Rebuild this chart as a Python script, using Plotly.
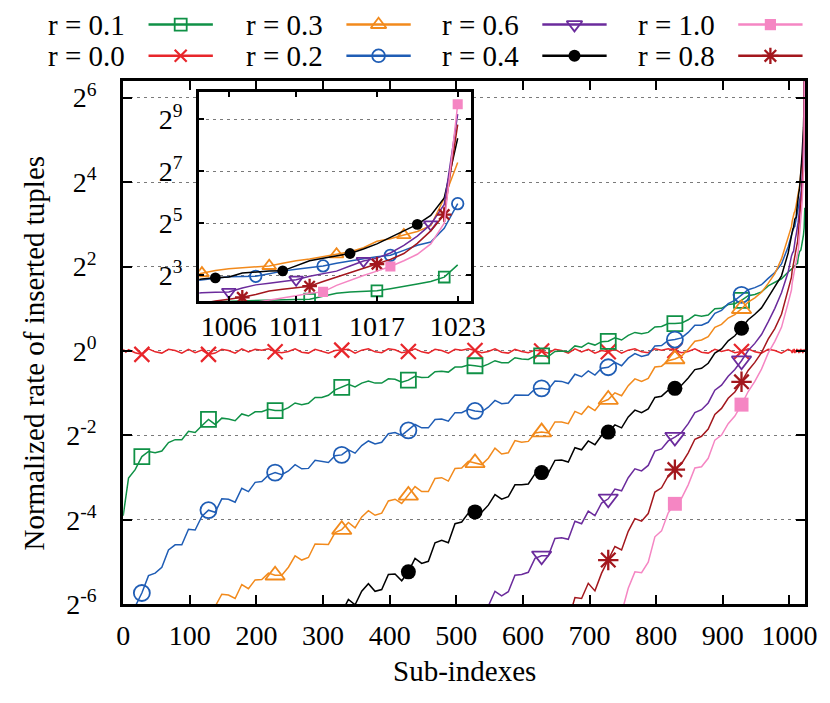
import math
import plotly.graph_objects as go

W, H = 830, 703

# ---------------- data (values are log2 of the normalized rate) ----------------
head_idx = [0, 4]
body_idx = list(range(8, 1000, 10))
tail_idx = list(range(1003, 1024))
sub_index = head_idx + body_idx + tail_idx

main_marker_idx = list(range(28, 1000, 100))

r00_log2 = [0.04, -0.03,
    0.03, -0.04, -0.08, 0.05, -0.02, -0.05, 0.04, 0.01, -0.05, 0.04,
    -0.04, 0.02, -0.08, -0.05, 0.04, 0.01, -0.05, 0.05, -0.02, 0.04,
    0.02, 0.05, -0.02, -0.04, -0.01, 0.05, -0.03, -0.05, 0.04, -0.01,
    -0.05, 0.01, 0.02, 0.04, -0.05, 0.02, 0.05, -0.02, -0.04, 0.05,
    0.03, -0.04, -0.01, 0.05, -0.02, -0.05, 0.04, 0.01, -0.05, 0.04,
    0.02, 0.05, 0.01, -0.04, -0.01, 0.05, -0.03, -0.05, 0.04, -0.01,
    -0.04, 0.02, 0.0, -0.05, 0.04, 0.01, -0.05, 0.05, -0.02, 0.04,
    -0.05, 0.01, -0.02, 0.04, -0.05, 0.02, 0.05, -0.02, -0.04, 0.05,
    0.02, 0.05, 0.01, -0.04, -0.01, 0.05, -0.03, -0.05, 0.04, -0.01,
    0.03, -0.04, -0.01, 0.05, -0.02, -0.05, 0.04, 0.01, -0.05, 0.04,
    0.0, -0.05, 0.03, -0.03, 0.05, -0.05, 0.02, -0.03, 0.05, -0.02, 0.03,
    -0.05, 0.03, -0.03, 0.05, -0.02, 0.03, -0.05, 0.02, 0.03, 0.0]

r01_log2 = [-3.9, -3.4,
    -3.01, -2.81, -2.5, -2.38, -2.41, -2.37, -2.17, -2.10, -2.10, -1.90,
    -1.93, -1.77, -1.62, -1.74, -1.59, -1.61, -1.65, -1.49, -1.54, -1.44,
    -1.44, -1.38, -1.41, -1.41, -1.34, -1.23, -1.27, -1.24, -1.10, -1.10,
    -1.05, -0.92, -0.86, -0.79, -0.85, -0.76, -0.71, -0.76, -0.76, -0.66,
    -0.67, -0.74, -0.69, -0.60, -0.63, -0.62, -0.49, -0.48, -0.50, -0.38,
    -0.38, -0.33, -0.35, -0.37, -0.31, -0.23, -0.28, -0.28, -0.16, -0.19,
    -0.20, -0.12, -0.115, -0.13, -0.01, 0.0, -0.02, 0.12, 0.09, 0.19,
    0.14, 0.22, 0.23, 0.31, 0.26, 0.37, 0.44, 0.41, 0.44, 0.57,
    0.58, 0.65, 0.65, 0.66, 0.74, 0.85, 0.82, 0.85, 1.0, 1.01,
    1.10, 1.12, 1.2, 1.31, 1.34, 1.40, 1.54, 1.63, 1.71, 1.87,
    1.92, 1.95, 1.97, 1.99, 2.0, 2.02, 2.04, 2.05, 2.06, 2.07, 2.2,
    2.3, 2.35, 2.37, 2.39, 2.47, 2.55, 2.65, 2.75, 2.92, 3.39]

r02_log2 = [
    -6.12, -6.05, -5.73, -5.32, -5.26, -5.12, -4.71, -4.59, -4.59, -4.22,
    -4.24, -3.92, -3.77, -3.82, -3.50, -3.51, -3.58, -3.25, -3.33, -3.11,
    -3.09, -2.94, -2.88, -2.93, -2.84, -2.69, -2.79, -2.78, -2.59, -2.61,
    -2.64, -2.48, -2.46, -2.34, -2.42, -2.24, -2.13, -2.20, -2.16, -1.96,
    -1.93, -2.00, -1.88, -1.74, -1.82, -1.82, -1.62, -1.61, -1.66, -1.46,
    -1.46, -1.38, -1.42, -1.44, -1.33, -1.17, -1.25, -1.23, -1.04, -1.05,
    -1.05, -0.90, -0.885, -0.91, -0.71, -0.72, -0.77, -0.55, -0.61, -0.47,
    -0.57, -0.41, -0.385, -0.27, -0.35, -0.17, -0.06, -0.13, -0.09, 0.12,
    0.13, 0.25, 0.27, 0.31, 0.44, 0.61, 0.61, 0.68, 0.89, 0.96,
    1.12, 1.20, 1.33, 1.45, 1.50, 1.57, 1.72, 1.86, 2.06, 2.47,
    2.75, 2.80, 2.87, 2.93, 2.94, 2.95, 3.05, 3.15, 3.22, 3.28, 3.35,
    3.45, 3.55, 3.63, 3.70, 3.76, 3.95, 4.15, 4.27, 4.8, 5.75]

r03_log2 = [
    -6.4, -6.05, -5.76, -5.78, -5.86, -5.53, -5.63, -5.42,
    -5.41, -5.26, -5.31, -5.31, -5.12, -4.85, -4.95, -4.89, -4.57, -4.57,
    -4.58, -4.30, -4.23, -4.06, -4.19, -3.93, -3.78, -3.89, -3.84, -3.55,
    -3.51, -3.61, -3.42, -3.21, -3.33, -3.33, -3.02, -3.00, -3.08, -2.78,
    -2.77, -2.61, -2.65, -2.69, -2.54, -2.30, -2.44, -2.41, -2.12, -2.16,
    -2.14, -1.94, -1.92, -1.94, -1.68, -1.68, -1.72, -1.43, -1.50, -1.31,
    -1.41, -1.21, -1.15, -0.99, -1.06, -0.82, -0.66, -0.72, -0.65, -0.38,
    -0.36, -0.23, -0.19, -0.12, 0.04, 0.23, 0.26, 0.34, 0.56, 0.63,
    0.78, 0.86, 1.0, 1.16, 1.26, 1.39, 1.60, 1.83, 2.18, 2.67,
    2.95, 3.07, 3.17, 3.24, 3.27, 3.3, 3.35, 3.45, 3.55, 3.62, 3.7,
    3.8, 3.9, 4.05, 4.3, 4.4, 4.54, 4.68, 4.9, 5.97, 7.34]

r04_log2 = [
    -6.36, -6.2, -5.88, -6.01, -5.69, -5.51, -5.69, -5.65, -5.29,
    -5.28, -5.44, -5.23, -4.91, -5.03, -4.98, -4.54, -4.48, -4.54, -4.09,
    -4.05, -3.84, -3.81, -3.82, -3.65, -3.40, -3.51, -3.45, -3.17, -3.17,
    -3.15, -2.91, -2.88, -2.89, -2.59, -2.58, -2.63, -2.29, -2.34, -2.13,
    -2.22, -2.00, -1.92, -1.75, -1.82, -1.56, -1.40, -1.46, -1.37, -1.10,
    -1.07, -0.93, -0.885, -0.81, -0.64, -0.44, -0.41, -0.29, -0.05, 0.05,
    0.24, 0.36, 0.54, 0.74, 0.87, 1.02, 1.27, 1.51, 1.78, 2.32,
    2.75, 2.85, 2.89, 2.92, 3.08, 3.12, 3.15, 3.16, 3.35, 3.55, 3.65,
    3.75, 3.83, 4.0, 4.2, 4.45, 4.7, 4.95, 5.3, 5.97, 8.27]

r06_log2 = [
    -6.4, -6.33, -6.04, -5.69, -5.80, -5.70, -5.31, -5.29,
    -5.24, -4.91, -4.85, -4.85, -4.44, -4.42, -4.46, -4.03, -4.09, -3.79,
    -3.90, -3.60, -3.5, -3.27, -3.31, -3.00, -2.79, -2.84, -2.71, -2.37,
    -2.32, -2.13, -2.04, -1.93, -1.72, -1.46, -1.39, -1.23, -0.93, -0.81,
    -0.60, -0.44, -0.23, 0.01, 0.18, 0.39, 0.69, 1.01, 1.38, 1.87,
    2.25, 2.32, 2.34, 2.35, 2.5, 2.62, 2.68, 2.75, 2.82, 2.95, 3.05,
    3.15, 3.35, 3.54, 3.65, 3.85, 4.14, 4.5, 4.95, 5.72, 9.2]

r08_log2 = [
    -6.38, -6.38, -5.84, -5.86, -5.50,
    -5.68, -5.26, -4.95, -4.63, -4.71, -4.27, -3.97, -4.03, -3.85, -3.34,
    -3.24, -2.96, -2.81, -2.67, -2.41, -2.09, -2.02, -1.85, -1.50, -1.36,
    -1.12, -0.97, -0.73, -0.46, -0.27, -0.04, 0.28, 0.53, 0.87, 1.43,
    1.75, 1.9, 2.0, 2.07, 2.14, 2.25, 2.38, 2.45, 2.5, 2.57, 2.75,
    2.92, 3.1, 3.25, 3.42, 3.6, 3.83, 4.22, 4.7, 5.33, 8.8]

r10_log2 = [
    -6.1, -6.2, -5.62, -5.23, -5.25, -5.0, -4.4,
    -4.26, -3.83, -3.62, -3.49, -3.17, -2.77, -2.74, -2.54, -2.11, -1.99,
    -1.72, -1.54, -1.27, -0.96, -0.72, -0.43, -0.05, 0.23, 0.56, 1.14,
    1.45, 1.6, 1.7, 1.8, 1.88, 1.95, 2.03, 2.1, 2.2, 2.3, 2.35,
    2.6, 2.8, 2.98, 3.15, 3.33, 3.55, 3.8, 4.2, 5.0, 9.58]

# marker positions used in the zoomed inset
inset_marks_r00 = []
inset_marks_r01 = [1012, 1017, 1022]
inset_marks_r02 = [1008, 1013, 1018, 1023]
inset_marks_r03 = [1004, 1009, 1014, 1019]
inset_marks_r04 = [1005, 1010, 1015, 1020]
inset_marks_r06 = [1006, 1011, 1016, 1021]
inset_marks_r08 = [1007, 1012, 1017, 1022]
inset_marks_r10 = [1013, 1018, 1023]

main_yticks_exp = [-6, -4, -2, 0, 2, 4, 6]
inset_yticks_exp = [3, 5, 7, 9]
main_xticks = list(range(0, 1001, 100))
inset_xticks = [1006, 1011, 1017, 1023]

# ---------------- styles ----------------
FONT = "Liberation Serif"
series = [
    dict(name="r = 0.0", vals=r00_log2, inset=inset_marks_r00, color="#e8262b",
         symbol="x-thin-open", size=15, mlw=2.2),
    dict(name="r = 0.1", vals=r01_log2, inset=inset_marks_r01, color="#0f9146",
         symbol="square-open", size=15, mlw=1.8),
    dict(name="r = 0.2", vals=r02_log2, inset=inset_marks_r02, color="#1f5db5",
         symbol="circle-open", size=16, mlw=1.8),
    dict(name="r = 0.3", vals=r03_log2, inset=inset_marks_r03, color="#f28a1c",
         symbol="triangle-up-open", size=17, mlw=1.8),
    dict(name="r = 0.4", vals=r04_log2, inset=inset_marks_r04, color="#000000",
         symbol="circle", size=15, mlw=0),
    dict(name="r = 0.6", vals=r06_log2, inset=inset_marks_r06, color="#6b2b9c",
         symbol="triangle-down-open", size=17, mlw=1.8),
    dict(name="r = 0.8", vals=r08_log2, inset=inset_marks_r08, color="#a3171d",
         symbol="asterisk-open", size=17, mlw=2.3),
    dict(name="r = 1.0", vals=r10_log2, inset=inset_marks_r10, color="#f586c3",
         symbol="square", size=14, mlw=0),
]
by_name = {s["name"]: s for s in series}

fig = go.Figure()

def marker_dict(s, scale=1.0):
    return dict(symbol=s["symbol"], size=s["size"] * scale, color=s["color"],
                line=dict(color=s["color"], width=s["mlw"]))

for s in series:
    xs = sub_index[-len(s["vals"]):]
    ys = [2 ** v for v in s["vals"]]
    lookup = dict(zip(xs, ys))
    fig.add_trace(go.Scatter(x=xs, y=ys, mode="lines", xaxis="x", yaxis="y",
                             line=dict(color=s["color"], width=1.5),
                             showlegend=False, hoverinfo="skip"))
    mx = [i for i in main_marker_idx if i in lookup]
    fig.add_trace(go.Scatter(x=mx, y=[lookup[i] for i in mx], mode="markers",
                             xaxis="x", yaxis="y", marker=marker_dict(s),
                             showlegend=False, hoverinfo="skip"))
    ix = [i for i in xs if i >= 998]
    fig.add_trace(go.Scatter(x=ix, y=[lookup[i] for i in ix], mode="lines",
                             xaxis="x2", yaxis="y2",
                             line=dict(color=s["color"], width=1.5),
                             showlegend=False, hoverinfo="skip"))
    if s["inset"]:
        fig.add_trace(go.Scatter(x=s["inset"], y=[lookup[i] for i in s["inset"]],
                                 mode="markers", xaxis="x2", yaxis="y2",
                                 marker=marker_dict(s, 0.72),
                                 showlegend=False, hoverinfo="skip"))

# ---------------- custom key (text, then line sample with marker) ----------------
key_columns = [("r = 0.1", "r = 0.0"), ("r = 0.3", "r = 0.2"),
               ("r = 0.6", "r = 0.4"), ("r = 1.0", "r = 0.8")]
key_text_right = [115, 318, 519, 720]
key_rows = [15, 47]
annotations = []
for cx, col in zip(key_text_right, key_columns):
    for ry, nm in zip(key_rows, col):
        s = by_name[nm]
        annotations.append(dict(x=cx, y=ry, xref="x3", yref="y3", text=nm,
                                showarrow=False, xanchor="right", yanchor="middle",
                                font=dict(family=FONT, size=29, color="black")))
        fig.add_trace(go.Scatter(x=[cx + 22, cx + 88], y=[ry, ry], mode="lines",
                                 xaxis="x3", yaxis="y3",
                                 line=dict(color=s["color"], width=2.5),
                                 showlegend=False, hoverinfo="skip"))
        fig.add_trace(go.Scatter(x=[cx + 55], y=[ry], mode="markers",
                                 xaxis="x3", yaxis="y3", marker=marker_dict(s, 0.8),
                                 showlegend=False, hoverinfo="skip", cliponaxis=False))

def px_x(p):
    return p / W

def px_y(p):
    return 1 - p / H

tickfont = dict(family=FONT, size=28, color="black")
titlefont = dict(family=FONT, size=29, color="black")
grid_dash = "3px,4px"

# axis titles placed as text
annotations.append(dict(x=px_x(461), y=px_y(678), xref="paper", yref="paper",
                        text="Sub-indexes", showarrow=False, xanchor="center",
                        yanchor="middle", font=titlefont))
annotations.append(dict(x=px_x(19), y=px_y(352), xref="paper", yref="paper",
                        text="Normalized rate of inserted tuples", showarrow=False,
                        textangle=-90, xanchor="center", yanchor="middle",
                        font=titlefont))

fig.update_layout(
    width=W, height=H,
    margin=dict(l=0, r=0, t=0, b=0),
    paper_bgcolor="white", plot_bgcolor="white",
    font=dict(family=FONT, size=28, color="black"),
    annotations=annotations,
    shapes=[dict(type="rect", xref="x2 domain", yref="y2 domain",
                 x0=0, x1=1, y0=0, y1=1, fillcolor="white",
                 line=dict(width=0), layer="below")],
    xaxis=dict(domain=[px_x(111), px_x(811)], anchor="y", range=[0, 1024],
               tickvals=main_xticks, ticks="inside", ticklen=9, tickwidth=1.5,
               tickcolor="black", showline=True, linewidth=3, linecolor="black",
               mirror="ticks", showgrid=False, zeroline=False, tickfont=tickfont,
               ticklabelstandoff=4),
    yaxis=dict(domain=[px_y(610), px_y(73)], anchor="x", type="log",
               range=[math.log10(2 ** -6), math.log10(2 ** 6.39)],
               tickvals=[2 ** e for e in main_yticks_exp],
               ticktext=["2<sup>%d</sup>" % e for e in main_yticks_exp],
               ticks="inside", ticklen=9, tickwidth=1.5, tickcolor="black",
               showline=True, linewidth=3, linecolor="black", mirror="ticks",
               showgrid=True, gridcolor="#7a7a7a", gridwidth=1, griddash=grid_dash,
               zeroline=False, tickfont=tickfont, ticklabelstandoff=18),
    xaxis2=dict(domain=[px_x(189), px_x(468)], anchor="y2", range=[1003.8, 1024.0],
                tickvals=inset_xticks, ticks="inside", ticklen=5, tickwidth=1.5,
                tickcolor="black", showline=True, linewidth=3, linecolor="black",
                mirror="ticks", showgrid=False, zeroline=False, tickfont=tickfont,
                ticklabelstandoff=-2),
    yaxis2=dict(domain=[px_y(299), px_y(84)], anchor="x2", type="log",
                range=[math.log10(2 ** 1.985), math.log10(2 ** 10.06)],
                tickvals=[2 ** e for e in inset_yticks_exp],
                ticktext=["2<sup>%d</sup>" % e for e in inset_yticks_exp],
                ticks="inside", ticklen=5, tickwidth=1.5, tickcolor="black",
                showline=True, linewidth=3, linecolor="black", mirror="ticks",
                showgrid=True, gridcolor="#7a7a7a", gridwidth=1, griddash=grid_dash,
                zeroline=False, tickfont=tickfont, ticklabelstandoff=8),
    xaxis3=dict(domain=[0, 1], anchor="y3", range=[0, W], visible=False,
                fixedrange=True),
    yaxis3=dict(domain=[px_y(70), 1], anchor="x3", range=[70, 0], visible=False,
                fixedrange=True),
)

fig.write_html("out.html")
